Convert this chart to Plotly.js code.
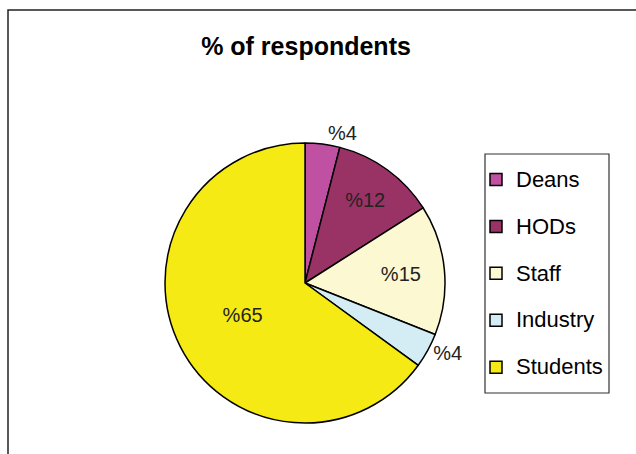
<!DOCTYPE html>
<html><head><meta charset="utf-8">
<script src="https://cdn.plot.ly/plotly-3.0.1.min.js"></script>
<style>html,body{margin:0;padding:0;background:#fff}#chart{width:636px;height:454px}</style>
</head><body><div id="chart"></div>
<script>
const categories = ['Deans', 'HODs', 'Staff', 'Industry', 'Students'];
const values = [4, 12, 15, 4, 65];
const colors = ['#C050A2', '#993366', '#FCF8D2', '#D4EDF4', '#F6EA14'];
const textPositions = ['outside', 'inside', 'inside', 'outside', 'inside'];

const W = 636, H = 454;
const px = x => x / W, py = y => 1 - y / H;
const FONT = 'Liberation Sans, Arial, sans-serif';

const trace = {
  type: 'pie',
  labels: categories.map(c => '<span style="font-size:22px;baseline-shift:6px">' + c + '</span>'),
  values: values,
  text: values.map(v => '%' + v),
  textinfo: 'text',
  textposition: textPositions,
  insidetextorientation: 'horizontal',
  textfont: {family: FONT, size: 20, color: '#222'},
  outsidetextfont: {family: FONT, size: 20, color: '#222'},
  sort: false,
  direction: 'clockwise',
  rotation: 0,
  marker: {colors: colors, line: {color: '#000', width: 1.5}},
  domain: {x: [px(165), px(445)], y: [py(423), py(143)]},
  hoverinfo: 'none'
};

const layout = {
  width: W, height: H,
  margin: {l: 0, r: 0, t: 0, b: 0},
  paper_bgcolor: '#fff',
  title: {text: '<b>% of respondents</b>', font: {family: FONT, size: 25, color: '#000'},
          x: px(306), xanchor: 'center', y: py(46), yanchor: 'middle'},
  showlegend: true,
  legend: {x: px(476), y: py(151), xanchor: 'left', yanchor: 'top',
           font: {family: FONT, size: 33.8, color: '#000'},
           bgcolor: 'rgba(0,0,0,0)', borderwidth: 0},
  shapes: [
    {type: 'rect', xref: 'paper', yref: 'paper', x0: px(8), x1: 1.2, y0: -0.2, y1: py(10),
     line: {color: '#222', width: 1.5}, fillcolor: 'rgba(0,0,0,0)'},
    {type: 'rect', xref: 'paper', yref: 'paper', x0: px(485), x1: px(609), y0: py(393), y1: py(154),
     line: {color: '#333', width: 1.2}, fillcolor: 'rgba(0,0,0,0)'}
  ]
};

Plotly.newPlot('chart', [trace], layout, {staticPlot: true, displayModeBar: false});
</script>
</body></html>
